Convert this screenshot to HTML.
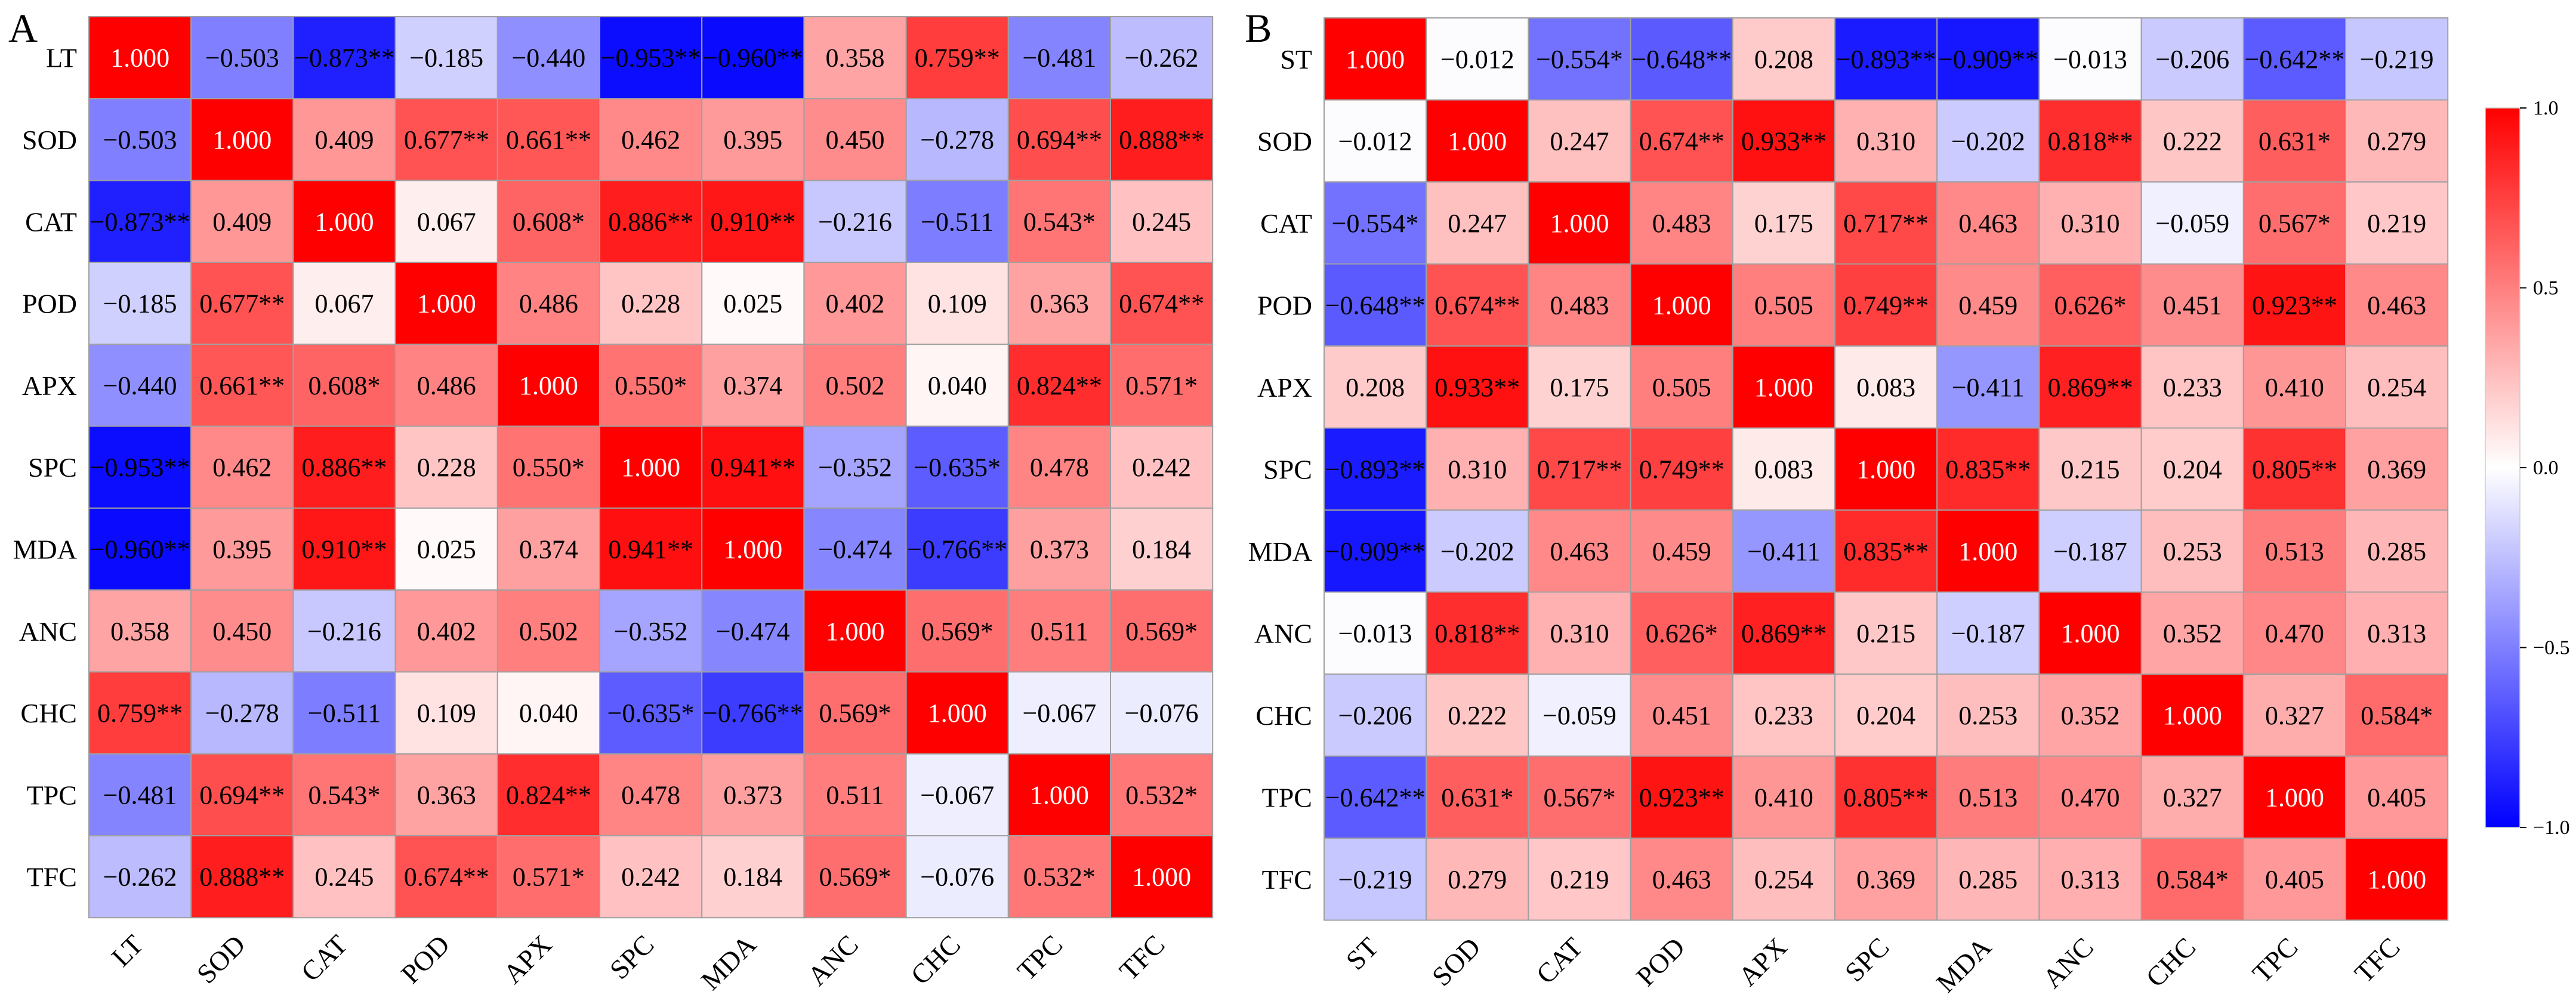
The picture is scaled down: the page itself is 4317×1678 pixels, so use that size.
<!DOCTYPE html>
<html><head><meta charset="utf-8"><style>
html,body{margin:0;padding:0;background:#fff}
svg, svg text{font-family:"Liberation Serif","Times New Roman",serif}
</style></head><body>
<svg id="chart" width="4317" height="1673" viewBox="0 0 4317 1673" xmlns="http://www.w3.org/2000/svg" font-family="Liberation Serif, serif">
<defs><linearGradient id="cbgrad" x1="0" y1="1" x2="0" y2="0">
<stop offset="0" stop-color="rgb(0,0,255)"/><stop offset="0.5" stop-color="#fff"/><stop offset="1" stop-color="rgb(255,0,0)"/></linearGradient></defs>
</svg>
<script>
const labelsA = ["LT","SOD","CAT","POD","APX","SPC","MDA","ANC","CHC","TPC","TFC"];
const labelsB = ["ST","SOD","CAT","POD","APX","SPC","MDA","ANC","CHC","TPC","TFC"];
const valuesA = [
[1.000,-0.503,-0.873,-0.185,-0.440,-0.953,-0.960,0.358,0.759,-0.481,-0.262],
[-0.503,1.000,0.409,0.677,0.661,0.462,0.395,0.450,-0.278,0.694,0.888],
[-0.873,0.409,1.000,0.067,0.608,0.886,0.910,-0.216,-0.511,0.543,0.245],
[-0.185,0.677,0.067,1.000,0.486,0.228,0.025,0.402,0.109,0.363,0.674],
[-0.440,0.661,0.608,0.486,1.000,0.550,0.374,0.502,0.040,0.824,0.571],
[-0.953,0.462,0.886,0.228,0.550,1.000,0.941,-0.352,-0.635,0.478,0.242],
[-0.960,0.395,0.910,0.025,0.374,0.941,1.000,-0.474,-0.766,0.373,0.184],
[0.358,0.450,-0.216,0.402,0.502,-0.352,-0.474,1.000,0.569,0.511,0.569],
[0.759,-0.278,-0.511,0.109,0.040,-0.635,-0.766,0.569,1.000,-0.067,-0.076],
[-0.481,0.694,0.543,0.363,0.824,0.478,0.373,0.511,-0.067,1.000,0.532],
[-0.262,0.888,0.245,0.674,0.571,0.242,0.184,0.569,-0.076,0.532,1.000]];
const sigA = ["00200220200","00022000022","20001220010","02000000002","02100100021","20201020100","20200200200","00000000101","20000121000","02102000001","02021001010"];
const valuesB = [
[1.000,-0.012,-0.554,-0.648,0.208,-0.893,-0.909,-0.013,-0.206,-0.642,-0.219],
[-0.012,1.000,0.247,0.674,0.933,0.310,-0.202,0.818,0.222,0.631,0.279],
[-0.554,0.247,1.000,0.483,0.175,0.717,0.463,0.310,-0.059,0.567,0.219],
[-0.648,0.674,0.483,1.000,0.505,0.749,0.459,0.626,0.451,0.923,0.463],
[0.208,0.933,0.175,0.505,1.000,0.083,-0.411,0.869,0.233,0.410,0.254],
[-0.893,0.310,0.717,0.749,0.083,1.000,0.835,0.215,0.204,0.805,0.369],
[-0.909,-0.202,0.463,0.459,-0.411,0.835,1.000,-0.187,0.253,0.513,0.285],
[-0.013,0.818,0.310,0.626,0.869,0.215,-0.187,1.000,0.352,0.470,0.313],
[-0.206,0.222,-0.059,0.451,0.233,0.204,0.253,0.352,1.000,0.327,0.584],
[-0.642,0.631,0.567,0.923,0.410,0.805,0.513,0.470,0.327,1.000,0.405],
[-0.219,0.279,0.219,0.463,0.254,0.369,0.285,0.313,0.584,0.405,1.000]];
const sigB = ["00120220020","00022002010","10000200010","22000201020","02000002000","20220020020","20000200000","02012000000","00000000001","21120200000","00000000100"];
const cbTicks = [1.0,0.5,0.0,-0.5,-1.0];

const NS="http://www.w3.org/2000/svg";
const svg=document.getElementById('chart');
function mk(tag,attrs,parent){const e=document.createElementNS(NS,tag);for(const k in attrs)e.setAttribute(k,attrs[k]);(parent||svg).appendChild(e);return e;}
function color(v){if(v>=0){const c=Math.round(255*(1-v));return `rgb(255,${c},${c})`;}const c=Math.round(255*(1+v));return `rgb(${c},${c},255)`;}
function fmt(v){return (v<0?"\u2212":"")+Math.abs(v).toFixed(3);}
const FF="Liberation Serif, Times New Roman, serif";

function drawPanel(letter,labels,vals,sig,x0,y0,cw,ch,letterX){
  const g=mk('g',{});
  
  
  const xS=i=>x0+i*cw, yS=j=>y0+j*ch;
  for(let r=0;r<labels.length;r++){
    for(let c=0;c<labels.length;c++){
      const v=vals[r][c];
      const rect=mk('rect',{x:xS(c),y:yS(r),width:cw,height:ch,fill:color(v),stroke:'#a0a0a0','stroke-width':2},g);
      
      
      const t=mk('text',{x:xS(c)+cw/2,y:yS(r)+ch/2+15,'text-anchor':'middle','font-size':44,'font-family':FF,fill:(v>=0.999?'#fff':'#000')},g);
      t.textContent=fmt(v)+"*".repeat(+sig[r][c]);
      
      
    }
  }
  labels.forEach((l,i)=>{
    const t=mk('text',{x:x0-20,y:yS(i)+ch/2+16,'text-anchor':'end','font-size':46,'font-family':FF},g);
    t.textContent=l;
    
    
    const cx=xS(i)+cw/2+8, cy=y0+labels.length*ch+48;
    const u=mk('text',{x:cx,y:cy,'text-anchor':'end','font-size':46,'font-family':FF,transform:`rotate(-45 ${cx} ${cy})`},g);
    u.textContent=l;
    
    
  });
  const L=mk('text',{x:letterX,y:70,'font-size':68,'font-family':FF},g);
  L.textContent=letter;
  
  
}
drawPanel('A',labelsA,valuesA,sigA,149,28,171.2,137.3,14);
drawPanel('B',labelsB,valuesB,sigB,2219,30,171.2,137.5,2086);

const cb=mk('g',{});


const cbTop=181,cbBot=1387,cbX=4165,cbW=58;
const cbY=v=>cbBot-(v+1)/2*(cbBot-cbTop);
mk('rect',{x:cbX,y:cbTop,width:cbW,height:cbBot-cbTop,fill:'url(#cbgrad)',stroke:'#ccc','stroke-width':1.5},cb);
cbTicks.forEach(v=>{
  const y=cbY(v);
  mk('line',{x1:cbX+cbW,x2:cbX+cbW+11,y1:y,y2:y,stroke:'#000','stroke-width':2},cb);
  const t=mk('text',{x:cbX+cbW+22,y:y+11,'font-size':34,'font-family':FF},cb);
  t.textContent=(v<0?"\u2212":"")+Math.abs(v).toFixed(1);
  
  
});
</script>
</body></html>
